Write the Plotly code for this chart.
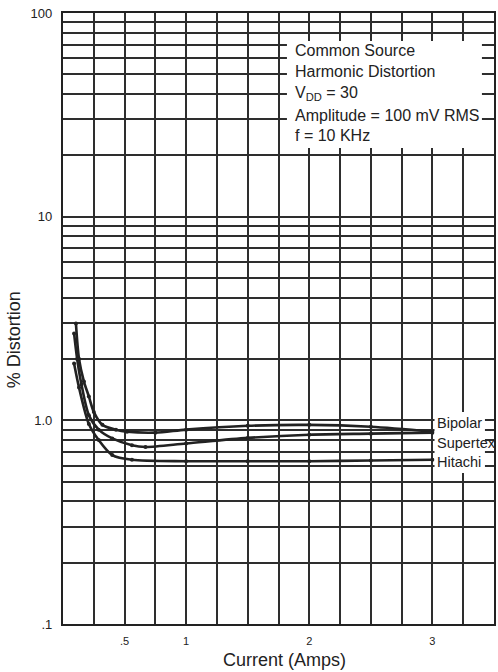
import plotly.graph_objects as go

# ---- data ----
bipolar_current = [0.105, 0.13, 0.17, 0.21, 0.25, 0.32, 0.43, 0.52, 0.75, 1.0, 1.5, 2.0, 2.5, 3.0]
bipolar_dist = [2.99, 2.0, 1.55, 1.31, 1.10, 0.95, 0.90, 0.88, 0.87, 0.90, 0.94, 0.95, 0.93, 0.88]

supertex_current = [0.09, 0.115, 0.15, 0.21, 0.29, 0.40, 0.56, 0.67, 1.0, 1.5, 2.0, 2.5, 3.0]
supertex_dist = [2.67, 2.0, 1.5, 1.06, 0.90, 0.815, 0.755, 0.74, 0.77, 0.82, 0.85, 0.86, 0.87]

hitachi_current = [0.09, 0.13, 0.21, 0.29, 0.40, 0.56, 1.0, 1.5, 2.0, 2.5, 3.0]
hitachi_dist = [1.90, 1.45, 0.96, 0.80, 0.675, 0.64, 0.63, 0.63, 0.63, 0.635, 0.64]

series_names = ["Bipolar", "Supertex", "Hitachi"]

x_tick_vals = [0.5, 1, 2, 3]
x_tick_text = [".5", "1", "2", "3"]
y_tick_vals = [0.1, 1, 10, 100]
y_tick_text = [".1", "1.0", "10", "100"]

note_lines = ["Common Source", "Harmonic Distortion", "V<sub>DD</sub> = 30",
              "Amplitude = 100 mV RMS", "f = 10 KHz"]

# ---- figure ----
FONT = "Liberation Sans, Arial, Helvetica, sans-serif"
INK = "#222222"
GRID = "#2e2e2e"

fig = go.Figure()
for name, xs, ys in [("Bipolar", bipolar_current, bipolar_dist),
                     ("Supertex", supertex_current, supertex_dist),
                     ("Hitachi", hitachi_current, hitachi_dist)]:
    fig.add_trace(go.Scatter(
        x=xs, y=ys, name=name, mode="lines+markers",
        line=dict(color=INK, width=2.6, shape="spline", smoothing=0.8),
        marker=dict(color=INK, size=4),
        showlegend=False, hoverinfo="skip"))

# grid every 0.25 A on x, every 1..9 of each decade on y
x_minor = [i * 0.25 for i in range(15)]
y_minor = [k * 10 ** d for d in (-1, 0, 1) for k in range(1, 10)] + [100]

fig.update_layout(
    width=498, height=672,
    margin=dict(l=63, r=2, t=13, b=48),
    paper_bgcolor="white", plot_bgcolor="white",
    font=dict(family=FONT, color=INK),
    xaxis=dict(range=[0, 3.5], tickmode="array", tickvals=x_tick_vals, ticktext=x_tick_text,
               showgrid=True, gridcolor=GRID, gridwidth=1.7, zeroline=False,
               showline=True, linecolor=INK, linewidth=2.2, mirror=True,
               ticks="outside", ticklen=6, tickcolor="rgba(0,0,0,0)",
               tickfont=dict(size=11, color=INK),
               minor=dict(tickmode="array", tickvals=x_minor, showgrid=True,
                          gridcolor=GRID, gridwidth=1.7, ticks="")),
    yaxis=dict(type="log", range=[-1, 2], tickmode="array", tickvals=y_tick_vals, ticktext=y_tick_text,
               showgrid=True, gridcolor=GRID, gridwidth=1.7, zeroline=False,
               showline=True, linecolor=INK, linewidth=2.2, mirror=True,
               ticks="outside", ticklen=6, tickcolor="rgba(0,0,0,0)",
               tickfont=dict(size=13, color=INK),
               minor=dict(tickmode="array", tickvals=y_minor, showgrid=True,
                          gridcolor=GRID, gridwidth=1.7, ticks="")),
)

# white patches masking the grid behind the texts
fig.add_shape(type="rect", xref="paper", yref="paper", x0=0.5196, x1=0.972, y0=0.779, y1=0.954,
              fillcolor="white", line=dict(width=0), layer="above")
fig.add_shape(type="rect", xref="paper", yref="paper", x0=0.862, x1=0.979, y0=0.247, y1=0.347,
              fillcolor="white", line=dict(width=0), layer="above")

note_y = [0.938, 0.9035, 0.869, 0.833, 0.799]
for txt, yy in zip(note_lines, note_y):
    fig.add_annotation(x=0.5335, y=yy, xref="paper", yref="paper", text=txt, showarrow=False,
                       xanchor="left", yanchor="middle", font=dict(size=16, family=FONT, color=INK))

label_y = [0.329, 0.296, 0.265]
for txt, yy in zip(series_names, label_y):
    fig.add_annotation(x=0.862, y=yy, xref="paper", yref="paper", text=txt, showarrow=False,
                       xanchor="left", yanchor="middle", font=dict(size=14.5, family=FONT, color=INK))

fig.add_annotation(x=0.515, y=-0.059, xref="paper", yref="paper", text="Current (Amps)",
                   showarrow=False, xanchor="center", yanchor="middle",
                   font=dict(size=18, family=FONT, color=INK))
fig.add_annotation(x=-0.113, y=0.465, xref="paper", yref="paper", text="% Distortion",
                   showarrow=False, textangle=-90, xanchor="center", yanchor="middle",
                   font=dict(size=18, family=FONT, color=INK))

fig.write_html("out.html", config={"displayModeBar": False},
               post_script="document.body.style.margin='0';")
